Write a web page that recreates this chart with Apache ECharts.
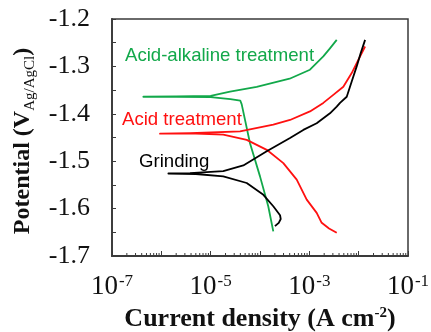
<!DOCTYPE html>
<html>
<head>
<meta charset="utf-8">
<script src="https://cdn.jsdelivr.net/npm/echarts@6/dist/echarts.min.js"></script>
<style>
html,body{margin:0;padding:0;background:#fff;}
#c{width:431px;height:332px;}
</style>
</head>
<body>
<div id="c"></div>
<script>
// ---- data (current density A/cm2, potential V vs Ag/AgCl), in sweep order ----
const grindingI = [2.01e-4, 2.40e-4, 2.63e-4, 2.55e-4, 1.86e-4, 1.17e-4, 5.38e-5, 1.80e-5, 5.0e-6, 1.39e-6,
  3.81e-6, 1.80e-5, 4.59e-5, 1.37e-4, 4.06e-4, 7.55e-4, 1.41e-3, 2.62e-3, 3.59e-3, 4.19e-3, 5.73e-3, 7.23e-3, 9.12e-3, 1.10e-2, 1.35e-2];
const grindingE = [-1.637, -1.630, -1.622, -1.614, -1.595, -1.571, -1.546, -1.532, -1.527, -1.526,
  -1.525, -1.521, -1.509, -1.479, -1.451, -1.434, -1.420, -1.399, -1.385, -1.377, -1.364, -1.332, -1.300, -1.272, -1.244];

const acidI = [3.59e-3, 2.51e-3, 1.78e-3, 1.41e-3, 8.85e-4, 5.55e-4, 2.97e-4, 1.37e-4, 5.38e-5, 1.80e-5, 5.0e-6, 9.4e-7,
  3.81e-6, 3.94e-5, 1.86e-4, 4.06e-4, 1.03e-3, 1.92e-3, 3.06e-3, 4.89e-3, 7.23e-3, 9.12e-3, 1.35e-2];
const acidE = [-1.651, -1.642, -1.630, -1.609, -1.581, -1.539, -1.504, -1.476, -1.455, -1.444, -1.442, -1.442,
  -1.441, -1.437, -1.423, -1.413, -1.395, -1.377, -1.360, -1.343, -1.314, -1.293, -1.258];

const acidAlkI = [1.86e-4, 1.47e-4, 1.0e-4, 6.27e-5, 4.26e-5, 3.98e-5, 2.51e-5, 1.0e-5, 2.0e-6, 4.32e-7,
  2.0e-6, 1.0e-5, 2.47e-5, 8.57e-5, 3.98e-4, 1.03e-3, 1.92e-3, 2.62e-3, 3.59e-3];
const acidAlkE = [-1.648, -1.595, -1.532, -1.462, -1.380, -1.372, -1.369, -1.365, -1.364, -1.364,
  -1.3635, -1.362, -1.353, -1.343, -1.326, -1.307, -1.279, -1.262, -1.244];

const seriesNames = ['Grinding', 'Acid treatment', 'Acid-alkaline treatment'];
const seriesColors = ['#000000', '#ff1010', '#12a84a'];

// axis ranges & ticks
const xMin = 1e-7, xMax = 1e-1;
const yMin = -1.7, yMax = -1.2, yStep = 0.1;
const xLabelExponents = [-7, -5, -3, -1];
const xMinorTicks = [];
[-7, -6, -5, -4, -3, -2].forEach(e => { [2,3,4,5,6,7,8,9].forEach(m => xMinorTicks.push(m * Math.pow(10, e))); });

const zip = (a, b) => a.map((v, i) => [v, b[i]]);
const serifFont = '"Liberation Serif", "Times New Roman", serif';
const sansFont = '"Liberation Sans", Arial, sans-serif';
const axisCol = '#3a3a3a';

const chart = echarts.init(document.getElementById('c'), null, {renderer: 'canvas'});
const lineSeries = [zip(grindingI, grindingE), zip(acidI, acidE), zip(acidAlkI, acidAlkE)].map((d, i) => ({
  name: seriesNames[i], type: 'line', data: d, showSymbol: false, symbol: 'none', smooth: false,
  lineStyle: {color: seriesColors[i], width: 1.8, join: 'round'}, z: 3 - i + 2, animation: false
}));

chart.setOption({
  animation: false,
  grid: {left: 112, right: 23, top: 19, bottom: 76, show: true, borderColor: axisCol, borderWidth: 1.5,
    containLabel: false, outerBoundsMode: 'none'},
  xAxis: {
    type: 'log', logBase: 10, min: xMin, max: xMax,
    axisLine: {show: true, lineStyle: {color: axisCol, width: 1.8}},
    axisTick: {show: true, inside: true, length: 5, lineStyle: {color: axisCol, width: 1}},
    splitLine: {show: false},
    axisLabel: {
      margin: 17, color: '#111',
      formatter: v => {
        const e = Math.round(Math.log10(v));
        return xLabelExponents.indexOf(e) >= 0 ? '{b|10}{s|' + e + '}' : '';
      },
      rich: {
        b: {fontFamily: serifFont, fontSize: 27, color: '#111', lineHeight: 28},
        s: {fontFamily: serifFont, fontSize: 17, color: '#111', verticalAlign: 'top', lineHeight: 28, padding: [0,0,0,1]}
      }
    },
    name: '{b|Current density (A cm}{s|-2}{b|)}',
    nameLocation: 'middle', nameGap: 48,
    nameTextStyle: {
      rich: {
        b: {fontFamily: serifFont, fontSize: 26, fontWeight: 'bold', color: '#111', lineHeight: 28},
        s: {fontFamily: serifFont, fontSize: 15, fontWeight: 'bold', color: '#111', verticalAlign: 'top', lineHeight: 28}
      }
    }
  },
  yAxis: {
    type: 'value', min: yMin, max: yMax, interval: yStep,
    axisLine: {show: true, lineStyle: {color: axisCol, width: 1.8}},
    axisTick: {show: true, inside: true, length: 4, lineStyle: {color: axisCol}},
    minorTick: {show: true, splitNumber: 2, length: 4, lineStyle: {color: axisCol}},
    splitLine: {show: false},
    axisLabel: {
      margin: 22, color: '#111', fontFamily: serifFont, fontSize: 26,
      formatter: v => v.toFixed(1)
    },
    name: '{b|Potential (V}{s|Ag/AgCl}{b|)}',
    nameLocation: 'middle', nameRotate: 90, nameGap: 73,
    nameTextStyle: {
      padding: [0, 7, 0, 0],
      rich: {
        b: {fontFamily: serifFont, fontSize: 24, fontWeight: 'bold', color: '#111', lineHeight: 30},
        s: {fontFamily: serifFont, fontSize: 15, color: '#111', verticalAlign: 'bottom', lineHeight: 30}
      }
    }
  },
  series: lineSeries.concat([{
    type: 'custom', name: 'minorTicks', silent: true, z: 10,
    data: xMinorTicks.map(v => [v, yMin]),
    renderItem: (params, api) => {
      const p = api.coord([api.value(0), api.value(1)]);
      return {type: 'line', shape: {x1: p[0], y1: p[1], x2: p[0], y2: p[1] - 3},
        style: {stroke: axisCol, lineWidth: 1}};
    }
  }]),
  graphic: [
    {type: 'text', left: 125, top: 46, style: {text: 'Acid-alkaline treatment', fill: seriesColors[2], font: '18.6px ' + sansFont}},
    {type: 'text', left: 122, top: 110, style: {text: 'Acid treatment', fill: seriesColors[1], font: '18.6px ' + sansFont}},
    {type: 'text', left: 139, top: 152, style: {text: 'Grinding', fill: seriesColors[0], font: '18.6px ' + sansFont}}
  ]
});
</script>
</body>
</html>
